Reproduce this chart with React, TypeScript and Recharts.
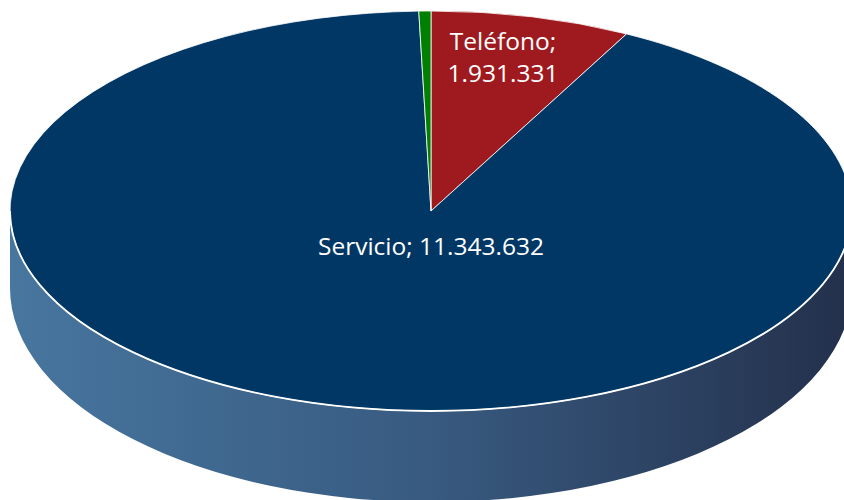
import { Cell, Pie, PieChart } from 'recharts';

const names = ['Teléfono', 'Servicio', 'Otros'];
const values = [1931331, 11343632, 150000]; // Otros has no label
const colors = ['#9E1A1E', '#003764', '#008000'];

const WIDTH = 844;
const HEIGHT = 500;
const CX = 431;
const CY = 211;
const RX = 421;
const TILT = 0.475; // ry / rx
const WALL_DROP = 77; // where the wall's bottom ellipse is centred, below the top
const WALL_RY = 214; // perspective: the bottom edge bulges more than the top one
const FORESHORTEN = 0.413; // how the 3D view squeezes angles near 12 o'clock

const data = names.map((name, i) => ({ name, value: values[i] }));

const fmt = (n: number) => String(n).replace(/\B(?=(\d{3})+$)/g, '.');

// recharts angle (90 = top, decreasing clockwise) -> parameter on the ellipse, clockwise from top
function param(angle: number) {
  const a = ((90 - angle) * Math.PI) / 180;
  let t = Math.atan2(FORESHORTEN * Math.sin(a), Math.cos(a));
  const turns = Math.round((a - t) / (2 * Math.PI));
  t += turns * 2 * Math.PI;
  return t;
}

function Slice(props: any) {
  const { cx, cy, outerRadius, startAngle, endAngle, fill, name } = props;
  const rx = outerRadius;
  const ry = outerRadius * TILT;
  const t0 = param(startAngle);
  const t1 = param(endAngle);
  const pt = (t: number) => `${cx + rx * Math.sin(t)} ${cy - ry * Math.cos(t)}`;
  const large = t1 - t0 > Math.PI ? 1 : 0;
  const top = `M${cx} ${cy} L${pt(t0)} A${rx} ${ry} 0 ${large} 1 ${pt(t1)} Z`;
  const left = cx - rx;
  const right = cx + rx;
  const wall =
    `M${right} ${cy} A${rx} ${ry} 0 0 1 ${left} ${cy} ` +
    `L${left} ${cy + WALL_DROP} A${rx} ${WALL_RY} 0 0 0 ${right} ${cy + WALL_DROP} Z`;
  const rim = `M${right} ${cy} A${rx} ${ry} 0 0 1 ${left} ${cy}`;
  return (
    <g>
      {name === 'Servicio' && <path d={wall} fill="url(#wallGradient)" />}
      <path d={top} fill={fill} stroke="#fff" strokeWidth={0.8} strokeLinejoin="round" />
      {name === 'Servicio' && <path d={rim} fill="none" stroke="#fff" strokeWidth={1.8} />}
    </g>
  );
}

function SliceLabel(props: any) {
  const { cx, cy, outerRadius, name, value } = props;
  const common = {
    fill: '#fff',
    fontFamily: '"Open Sans", sans-serif',
    fontSize: 24.5,
    textAnchor: 'middle' as const,
  };
  const ry = outerRadius * TILT;
  if (name === 'Servicio') {
    return (
      <text {...common} x={cx} y={cy + 0.22 * ry}>
        {`${name}; ${fmt(value)}`}
      </text>
    );
  }
  if (name === 'Teléfono') {
    const x = cx + 0.171 * outerRadius;
    return (
      <text {...common} x={x} y={cy - 0.805 * ry}>
        <tspan x={x}>{`${name};`}</tspan>
        <tspan x={x} dy={32}>
          {fmt(value)}
        </tspan>
      </text>
    );
  }
  return <g />;
}

export default function App() {
  return (
    <div style={{ position: 'fixed', left: 0, top: 0, width: WIDTH, height: HEIGHT, overflow: 'hidden', background: '#fff' }}>
      <PieChart width={WIDTH} height={HEIGHT} margin={{ top: 0, right: 0, bottom: 0, left: 0 }}>
        <defs>
          <linearGradient id="wallGradient" gradientUnits="userSpaceOnUse" x1={CX - RX} x2={CX + RX} y1={0} y2={0}>
            <stop offset="0" stopColor="#47769F" />
            <stop offset="0.5" stopColor="#385A80" />
            <stop offset="1" stopColor="#23304B" />
          </linearGradient>
        </defs>
        <Pie
          data={data}
          dataKey="value"
          nameKey="name"
          cx={CX}
          cy={CY}
          innerRadius={0}
          outerRadius={RX}
          startAngle={90}
          endAngle={-270}
          stroke="#fff"
          shape={Slice}
          label={SliceLabel}
          labelLine={false}
          isAnimationActive={false}
        >
          {data.map((d, i) => (
            <Cell key={d.name} fill={colors[i]} />
          ))}
        </Pie>
      </PieChart>
    </div>
  );
}
